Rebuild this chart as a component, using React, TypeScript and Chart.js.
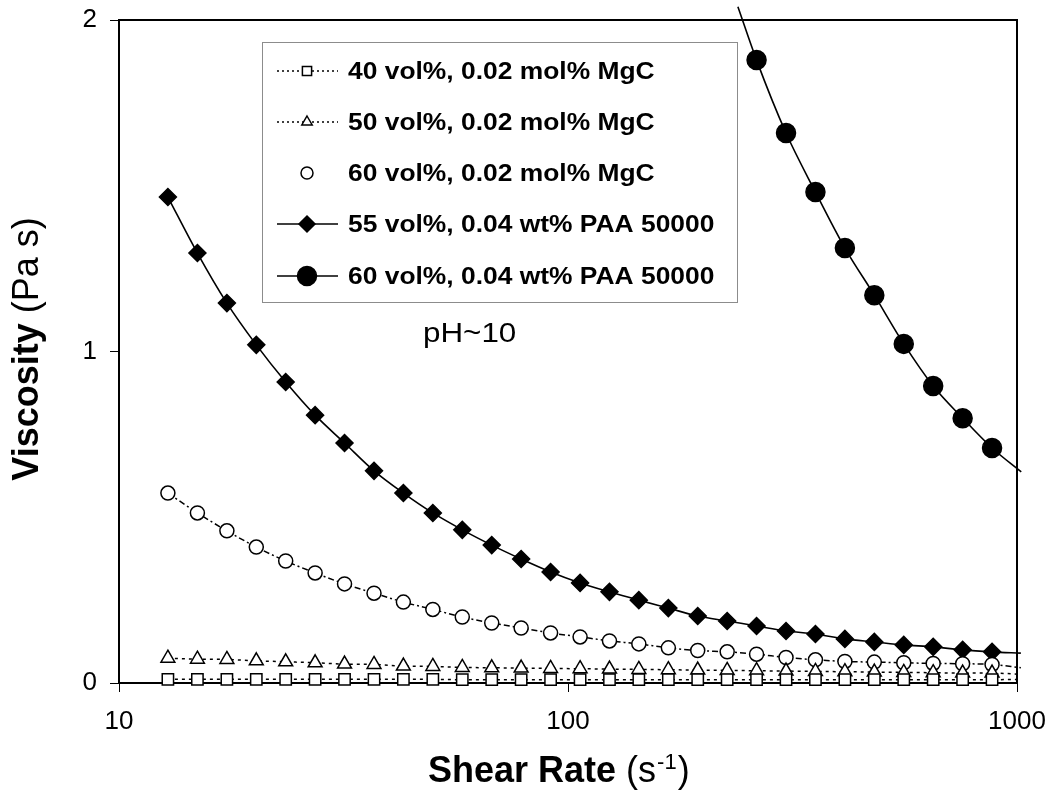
import React, { useEffect, useRef } from "react";
import { Chart, registerables } from "chart.js";

Chart.register(...registerables);

const FONT = '"Liberation Sans", Arial, Helvetica, sans-serif';

// ---------- data ----------
const shearRate = [
  12.85, 14.95, 17.39, 20.22, 23.51, 27.34, 31.79, 36.98, 42.99, 50.0,
  58.15, 67.63, 78.64, 91.46, 106.4, 123.7, 143.8, 167.3, 194.5, 226.2,
  263.0, 305.9, 355.7, 413.7, 481.1, 559.5, 650.6, 756.7, 879.9,
];
const shearRatePAA60 = [263.0, 305.9, 355.7, 413.7, 481.1, 559.5, 650.6, 756.7, 879.9];

const visc40MgC = [
  0.011, 0.011, 0.011, 0.011, 0.011, 0.011, 0.011, 0.011, 0.011, 0.011,
  0.010, 0.010, 0.010, 0.010, 0.010, 0.010, 0.010, 0.010, 0.010, 0.010,
  0.010, 0.010, 0.010, 0.010, 0.010, 0.010, 0.010, 0.010, 0.010,
];
const visc50MgC = [
  0.075, 0.072, 0.071, 0.067, 0.064, 0.061, 0.057, 0.056, 0.051, 0.050,
  0.047, 0.046, 0.045, 0.044, 0.043, 0.042, 0.041, 0.040, 0.039, 0.038,
  0.037, 0.036, 0.035, 0.034, 0.033, 0.032, 0.031, 0.030, 0.030,
];
const visc60MgC = [
  0.573, 0.513, 0.459, 0.410, 0.368, 0.332, 0.299, 0.271, 0.244, 0.222,
  0.199, 0.181, 0.166, 0.151, 0.139, 0.127, 0.118, 0.106, 0.098, 0.094,
  0.087, 0.077, 0.070, 0.065, 0.063, 0.061, 0.059, 0.058, 0.056,
];
const visc55PAA = [
  1.466, 1.297, 1.146, 1.020, 0.908, 0.808, 0.724, 0.640, 0.573, 0.513,
  0.462, 0.416, 0.374, 0.335, 0.302, 0.275, 0.250, 0.226, 0.202, 0.187,
  0.172, 0.157, 0.148, 0.133, 0.124, 0.115, 0.109, 0.100, 0.094,
];
const visc60PAA = [1.879, 1.659, 1.481, 1.312, 1.170, 1.023, 0.896, 0.799, 0.709];

// trend-line end values
const trendEndRate = 1020;
const trendEnd40MgC = 0.011;
const trendEnd50MgC = 0.026;
const trendEnd60MgC = 0.046;
const trendEnd55PAA = 0.090;
const trendStartRate60PAA = 239;
const trendStartVisc60PAA = 2.04;
const trendEndRate60PAA = 1022;
const trendEndVisc60PAA = 0.637;

const seriesLabels = [
  "40 vol%, 0.02 mol% MgC",
  "50 vol%, 0.02 mol% MgC",
  "60 vol%, 0.02 mol% MgC",
  "55 vol%, 0.04 wt% PAA 50000",
  "60 vol%, 0.04 wt% PAA 50000",
];
const xTickValues = [10, 100, 1000];
const yTickValues = [0, 1, 2];
const xTitleBold = "Shear Rate";
const xTitleUnit = " (s";
const xTitleSup = "-1";
const yTitleBold = "Viscosity";
const yTitleUnit = " (Pa s)";
const annotationText = "pH~10";

// ---------- styles ----------
type Marker = "rect" | "triangle" | "circle" | "rectRot";
const seriesStyle: {
  marker: Marker; radius: number; fill: string; dash: number[] | null;
  legendRadius: number; legendDash: number[] | null;
}[] = [
  { marker: "rect", radius: 8, fill: "#fff", dash: [3, 4], legendRadius: 6.5, legendDash: [2, 3] },
  { marker: "triangle", radius: 8, fill: "#fff", dash: [3, 4], legendRadius: 6, legendDash: [2, 3] },
  { marker: "circle", radius: 7, fill: "#fff", dash: [6, 3, 2, 3], legendRadius: 6, legendDash: null },
  { marker: "rectRot", radius: 8.5, fill: "#000", dash: [], legendRadius: 8, legendDash: [] },
  { marker: "circle", radius: 9.5, fill: "#000", dash: [], legendRadius: 9.5, legendDash: [] },
];

const toPts = (xs: number[], ys: number[]) => xs.map((x, i) => ({ x, y: ys[i] }));

function drawMarker(ctx: CanvasRenderingContext2D, type: Marker, x: number, y: number, r: number, fill: string) {
  ctx.beginPath();
  if (type === "circle") {
    ctx.arc(x, y, r, 0, Math.PI * 2);
  } else if (type === "rect") {
    const s = r * Math.SQRT1_2;
    ctx.rect(x - s, y - s, 2 * s, 2 * s);
  } else if (type === "rectRot") {
    ctx.moveTo(x, y - r); ctx.lineTo(x + r, y); ctx.lineTo(x, y + r); ctx.lineTo(x - r, y); ctx.closePath();
  } else {
    const h = r * 0.866;
    ctx.moveTo(x, y - r); ctx.lineTo(x + h, y + r / 2); ctx.lineTo(x - h, y + r / 2); ctx.closePath();
  }
  ctx.fillStyle = fill;
  ctx.fill();
  ctx.lineWidth = 1.5;
  ctx.strokeStyle = "#000";
  ctx.setLineDash([]);
  ctx.stroke();
}

const framePlugin = {
  id: "frame",
  beforeDatasetsDraw(chart: any) {
    const { ctx, chartArea: a } = chart;
    ctx.save();
    ctx.strokeStyle = "#000";
    ctx.lineWidth = 2;
    ctx.beginPath();
    ctx.moveTo(a.left, a.top);
    ctx.lineTo(a.right, a.top);
    ctx.lineTo(a.right, a.bottom);
    ctx.stroke();
    ctx.restore();
  },
};

const legendPlugin = {
  id: "customLegend",
  afterDatasetsDraw(chart: any) {
    const ctx: CanvasRenderingContext2D = chart.ctx;
    const bx = 262, by = 42, bw = 475, bh = 260;
    const rows = [71, 122, 173, 224, 276];
    ctx.save();
    ctx.fillStyle = "#fff";
    ctx.fillRect(bx, by, bw, bh);
    ctx.strokeStyle = "#8c8c8c";
    ctx.lineWidth = 1;
    ctx.strokeRect(bx + 0.5, by + 0.5, bw, bh);
    seriesLabels.forEach((label, i) => {
      const st = seriesStyle[i];
      const y = rows[i];
      if (st.legendDash) {
        ctx.beginPath();
        ctx.setLineDash(st.legendDash);
        ctx.strokeStyle = "#000";
        ctx.lineWidth = 1.5;
        ctx.moveTo(277, y);
        ctx.lineTo(338, y);
        ctx.stroke();
      }
      drawMarker(ctx, st.marker, 307, y, st.legendRadius, st.fill);
      ctx.save();
      ctx.translate(348, y + 1);
      ctx.scale(1.1, 1);
      ctx.font = `bold 24px ${FONT}`;
      ctx.fillStyle = "#000";
      ctx.textBaseline = "middle";
      ctx.textAlign = "left";
      ctx.fillText(label, 0, 0);
      ctx.restore();
    });
    ctx.restore();
  },
};

const titlesPlugin = {
  id: "titles",
  afterDraw(chart: any) {
    const ctx: CanvasRenderingContext2D = chart.ctx;
    ctx.save();
    ctx.fillStyle = "#000";
    ctx.textBaseline = "alphabetic";
    ctx.textAlign = "left";
    // x title
    let x = 428;
    const y = 782;
    ctx.font = `bold 36px ${FONT}`;
    ctx.fillText(xTitleBold, x, y);
    x += ctx.measureText(xTitleBold).width;
    ctx.font = `36px ${FONT}`;
    ctx.fillText(xTitleUnit, x, y);
    x += ctx.measureText(xTitleUnit).width;
    ctx.font = `22px ${FONT}`;
    ctx.fillText(xTitleSup, x + 1, y - 13);
    x += ctx.measureText(xTitleSup).width + 2;
    ctx.font = `36px ${FONT}`;
    ctx.fillText(")", x, y);

    // y title
    ctx.save();
    ctx.translate(38, 349);
    ctx.rotate(-Math.PI / 2);
    ctx.font = `bold 36px ${FONT}`;
    const w1 = ctx.measureText(yTitleBold).width;
    ctx.font = `36px ${FONT}`;
    const w2 = ctx.measureText(yTitleUnit).width;
    const start = -(w1 + w2) / 2;
    ctx.font = `bold 36px ${FONT}`;
    ctx.fillText(yTitleBold, start, 0);
    ctx.font = `36px ${FONT}`;
    ctx.fillText(yTitleUnit, start + w1, 0);
    ctx.restore();

    // annotation
    ctx.save();
    ctx.translate(423, 342);
    ctx.scale(1.12, 1);
    ctx.font = `28px ${FONT}`;
    ctx.fillText(annotationText, 0, 0);
    ctx.restore();
    ctx.restore();
  },
};

const zeroPad = (scale: any) => {
  scale.paddingTop = 0;
  scale.paddingBottom = 0;
  scale.paddingLeft = 0;
  scale.paddingRight = 0;
};

export default function App() {
  const canvasRef = useRef<HTMLCanvasElement | null>(null);

  useEffect(() => {
    if (!canvasRef.current) return;
    const markerSets = [
      toPts(shearRate, visc40MgC),
      toPts(shearRate, visc50MgC),
      toPts(shearRate, visc60MgC),
      toPts(shearRate, visc55PAA),
      toPts(shearRatePAA60, visc60PAA),
    ];
    const trendSets = [
      [...markerSets[0], { x: trendEndRate, y: trendEnd40MgC }],
      [...markerSets[1], { x: trendEndRate, y: trendEnd50MgC }],
      [...markerSets[2], { x: trendEndRate, y: trendEnd60MgC }],
      [...markerSets[3], { x: trendEndRate, y: trendEnd55PAA }],
      [
        { x: trendStartRate60PAA, y: trendStartVisc60PAA },
        ...markerSets[4],
        { x: trendEndRate60PAA, y: trendEndVisc60PAA },
      ],
    ];

    const datasets: any[] = [];
    markerSets.forEach((pts, i) => {
      const st = seriesStyle[i];
      datasets.push({
        label: seriesLabels[i],
        data: pts,
        showLine: false,
        pointStyle: st.marker,
        pointRadius: st.radius,
        pointBackgroundColor: st.fill,
        pointBorderColor: "#000",
        pointBorderWidth: 1.5,
        clip: false,
        order: 0,
      });
    });
    trendSets.forEach((pts, i) => {
      const st = seriesStyle[i];
      datasets.push({
        label: seriesLabels[i] + " trend",
        data: pts,
        showLine: true,
        pointRadius: 0,
        borderColor: "#000",
        borderWidth: i >= 3 ? 1.6 : 1.5,
        borderDash: st.dash,
        cubicInterpolationMode: "monotone",
        clip: { left: 5, top: 16, right: 7, bottom: 5 },
        order: 1,
      });
    });

    const chart = new Chart(canvasRef.current, {
      type: "scatter",
      data: { datasets },
      options: {
        responsive: false,
        animation: false,
        layout: { padding: { top: 20, right: 34, left: 0, bottom: 0 } },
        plugins: {
          legend: { display: false },
          tooltip: { enabled: false },
          title: { display: false },
        },
        scales: {
          x: {
            type: "logarithmic",
            min: 10,
            max: 1000,
            afterBuildTicks: (scale: any) => {
              scale.ticks = xTickValues.map((v) => ({ value: v }));
            },
            afterFit: (scale: any) => {
              scale.height = 798 - 683;
              zeroPad(scale);
            },
            ticks: {
              color: "#000",
              font: { family: FONT, size: 26 },
              padding: 14,
              maxRotation: 0,
              autoSkip: false,
              callback: (v: any) => String(v),
            },
            grid: { drawOnChartArea: false, drawTicks: true, tickLength: 9, color: "#000", lineWidth: 1 },
            border: { display: true, color: "#000", width: 2 },
          },
          y: {
            type: "linear",
            min: 0,
            max: 2,
            afterBuildTicks: (scale: any) => {
              scale.ticks = yTickValues.map((v) => ({ value: v }));
            },
            afterFit: (scale: any) => {
              scale.width = 119;
              zeroPad(scale);
            },
            ticks: {
              color: "#000",
              font: { family: FONT, size: 26 },
              padding: 13,
              callback: (v: any) => String(v),
            },
            grid: { drawOnChartArea: false, drawTicks: true, tickLength: 9, color: "#000", lineWidth: 1 },
            border: { display: true, color: "#000", width: 2 },
          },
        },
      },
      plugins: [framePlugin, legendPlugin, titlesPlugin],
    } as any);

    return () => chart.destroy();
  }, []);

  return (
    <div style={{ position: "absolute", left: 0, top: 0, width: 1051, height: 798, background: "#fff" }}>
      <canvas ref={canvasRef} width={1051} height={798} style={{ display: "block" }} />
    </div>
  );
}
